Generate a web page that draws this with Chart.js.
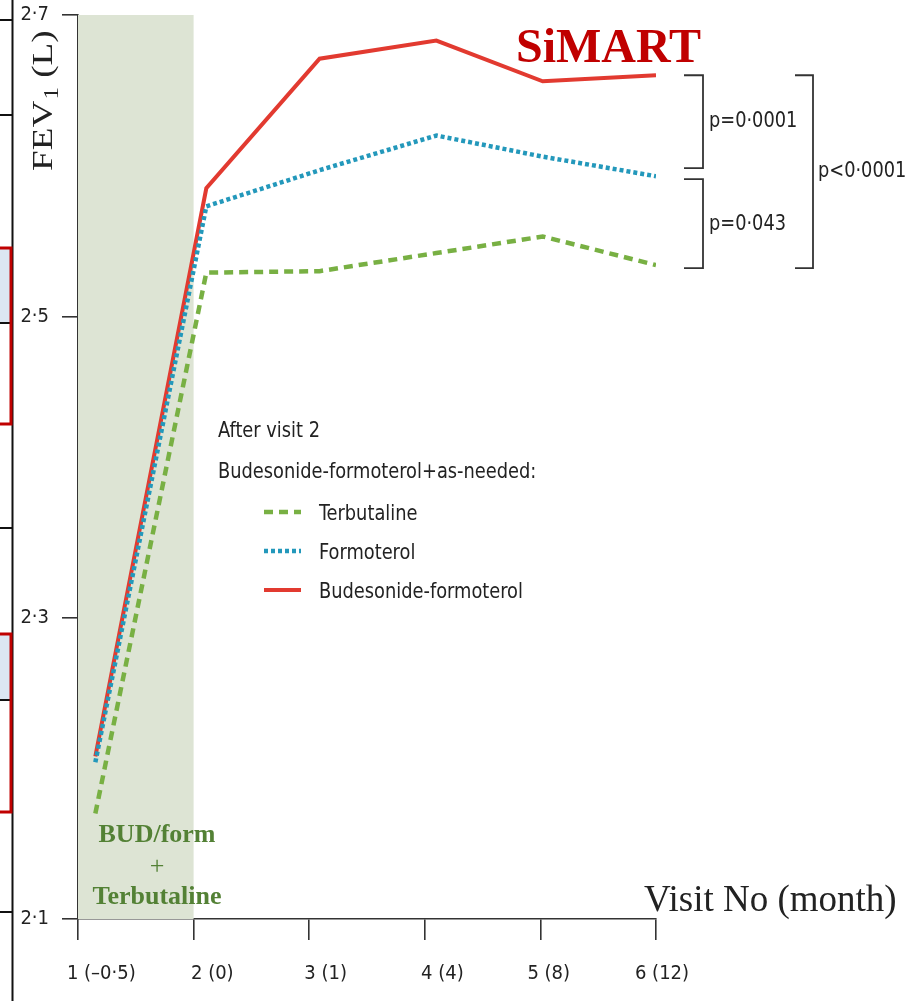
<!DOCTYPE html>
<html lang="en">
  <head>
    <meta charset="utf-8" />
    <title>SiMART FEV1</title>
    <style>
      * {
        margin: 0;
        padding: 0;
      }
      body {
        background: white;
        overflow: hidden;
      }
    </style>
  </head>
  <body>
    <canvas id="myChart" width="915" height="1001"></canvas>

    <script src="https://cdn.jsdelivr.net/npm/chart.js@4.4.1/dist/chart.umd.min.js"></script>

    <script>
      // values
      const visitLabels = ["1 (\u20130\u00b75)", "2 (0)", "3 (1)", "4 (4)", "5 (8)", "6 (12)"];
      const visitPos = [1.15, 2.11, 3.09, 4.1, 5.02, 6];
      const terbutaline = [2.17, 2.529, 2.53, 2.542, 2.553, 2.534];
      const formoterol = [2.204, 2.573, 2.597, 2.62, 2.606, 2.593];
      const budForm = [2.208, 2.585, 2.671, 2.683, 2.656, 2.66];
      const yTicks = [2.1, 2.3, 2.5, 2.7];
      const xTicks = [1, 2, 3, 4, 5, 6];

      const sansNarrow = "'Liberation Sans Narrow', 'DejaVu Sans Condensed', 'Liberation Sans', sans-serif";
      const serif = "'Liberation Serif', 'DejaVu Serif', serif";

      const toPoints = (vals) => vals.map((v, i) => ({ x: visitPos[i], y: v }));

      const data = {
        datasets: [
          {
            label: "Terbutaline",
            data: toPoints(terbutaline),
            borderColor: "#78b043",
            borderWidth: 4.5,
            borderDash: [9, 6],
          },
          {
            label: "Formoterol",
            data: toPoints(formoterol),
            borderColor: "#2398bb",
            borderWidth: 4.5,
            borderDash: [4, 3],
          },
          {
            label: "Budesonide-formoterol",
            data: toPoints(budForm),
            borderColor: "#e23a30",
            borderWidth: 4,
          },
        ],
      };

      // draw text squeezed horizontally (the figure uses a condensed face)
      function squeezeText(ctx, text, x, y, sx) {
        ctx.save();
        ctx.translate(x, y);
        ctx.scale(sx, 1);
        ctx.fillText(text, 0, 0);
        ctx.restore();
      }

      // shaded run-in period (visit 1 to 2)
      const runInBand = {
        id: "runInBand",
        beforeDatasetsDraw(chart) {
          const { ctx, chartArea, scales } = chart;
          const x1 = scales.x.getPixelForValue(1);
          const x2 = scales.x.getPixelForValue(2);
          ctx.save();
          ctx.fillStyle = "#dde4d4";
          ctx.fillRect(x1, chartArea.top, x2 - x1, chartArea.bottom - chartArea.top);
          ctx.restore();
        },
      };

      // leftover slide edge on the far left
      const slideEdge = {
        id: "slideEdge",
        beforeDraw(chart) {
          const { ctx } = chart;
          ctx.save();
          ctx.fillStyle = "#dce6f2";
          ctx.fillRect(0, 248, 12, 75);
          ctx.fillRect(0, 634, 12, 66);
          ctx.strokeStyle = "#111";
          ctx.lineWidth = 2;
          ctx.beginPath();
          ctx.moveTo(12.5, 0);
          ctx.lineTo(12.5, 1001);
          [20, 115, 323, 528, 700, 912].forEach((y) => {
            ctx.moveTo(0, y);
            ctx.lineTo(12, y);
          });
          ctx.stroke();
          ctx.strokeStyle = "#c00000";
          ctx.lineWidth = 3;
          ctx.strokeRect(-3, 248, 14, 176);
          ctx.strokeRect(-3, 634, 14, 178);
          ctx.restore();
        },
      };

      const annotations = {
        id: "annotations",
        afterDraw(chart) {
          const { ctx, scales } = chart;
          const y = scales.y;
          ctx.save();

          // title
          ctx.fillStyle = "#c00000";
          ctx.font = "bold 48px " + serif;
          ctx.textBaseline = "alphabetic";
          ctx.textAlign = "left";
          ctx.fillText("SiMART", 516, 62);

          // y axis title, stretched along its baseline
          ctx.save();
          ctx.translate(52, 171);
          ctx.rotate(-Math.PI / 2);
          ctx.scale(1.24, 1);
          ctx.fillStyle = "#222";
          ctx.font = "30px " + serif;
          ctx.fillText("FEV", 0, 0);
          let w = ctx.measureText("FEV").width;
          ctx.font = "20px " + serif;
          ctx.fillText("1", w + 1, 6);
          w += ctx.measureText("1").width + 1;
          ctx.font = "30px " + serif;
          ctx.fillText(" (L)", w, 0);
          ctx.restore();

          // x axis title
          ctx.fillStyle = "#222";
          ctx.font = "37px " + serif;
          ctx.fillText("Visit No (month)", 644, 911);

          // run-in label
          ctx.fillStyle = "#538135";
          ctx.textAlign = "center";
          ctx.font = "bold 26px " + serif;
          ctx.fillText("BUD/form", 157, 842);
          ctx.font = "26px " + serif;
          ctx.fillText("+", 157, 874);
          ctx.font = "bold 26px " + serif;
          ctx.fillText("Terbutaline", 157, 904);

          // legend
          ctx.textAlign = "left";
          ctx.fillStyle = "#222";
          ctx.font = "22px " + sansNarrow;
          squeezeText(ctx, "After visit 2", 218, 437, 0.9);
          squeezeText(ctx, "Budesonide-formoterol+as-needed:", 218, 478, 0.9);
          const rows = [520, 559, 598];
          chart.data.datasets.forEach((ds, i) => {
            ctx.save();
            ctx.strokeStyle = ds.borderColor;
            ctx.lineWidth = ds.borderWidth;
            ctx.setLineDash(ds.borderDash || []);
            ctx.beginPath();
            ctx.moveTo(264, rows[i] - 8);
            ctx.lineTo(301, rows[i] - 8);
            ctx.stroke();
            ctx.restore();
            squeezeText(ctx, ds.label, 319, rows[i], 0.9);
          });

          // significance brackets
          const last = visitPos.length - 1;
          const yRed = y.getPixelForValue(budForm[last]);
          const yBlue = y.getPixelForValue(formoterol[last]);
          const yGreen = y.getPixelForValue(terbutaline[last]);
          ctx.strokeStyle = "#333";
          ctx.lineWidth = 1.8;
          const bracket = (x, top, bottom, len) => {
            ctx.beginPath();
            ctx.moveTo(x - len, top);
            ctx.lineTo(x, top);
            ctx.lineTo(x, bottom);
            ctx.lineTo(x - len, bottom);
            ctx.stroke();
          };
          bracket(703, yRed, yBlue - 8, 19);
          bracket(703, yBlue + 3, yGreen + 3, 19);
          bracket(813, yRed, yGreen + 3, 18);

          ctx.fillStyle = "#222";
          ctx.font = "21px " + sansNarrow;
          squeezeText(ctx, "p=0\u00b70001", 709, 127, 0.94);
          squeezeText(ctx, "p=0\u00b7043", 709, 230, 0.94);
          squeezeText(ctx, "p<0\u00b70001", 818, 177, 0.94);

          ctx.restore();
        },
      };

      const config = {
        type: "line",
        data: data,
        options: {
          responsive: false,
          animation: false,
          layout: {
            padding: { left: 0, top: 15, right: 259, bottom: 0 },
          },
          elements: {
            point: { radius: 0 },
            line: { tension: 0, borderCapStyle: "butt" },
          },
          scales: {
            // axis line and tick marks at whole visits
            x: {
              type: "linear",
              min: 1,
              max: 6,
              weight: 0,
              afterFit(scale) {
                scale.height = 21;
                scale.paddingLeft = 0;
                scale.paddingRight = 0;
              },
              afterBuildTicks(scale) {
                scale.ticks = xTicks.map((v) => ({ value: v }));
              },
              ticks: { display: false },
              grid: {
                drawOnChartArea: false,
                tickLength: 21,
                color: "#333",
                lineWidth: 1.6,
              },
              border: { color: "#333", width: 1.6 },
            },
            // visit labels sit under the plotted points
            xLabels: {
              type: "linear",
              position: "bottom",
              min: 1,
              max: 6,
              weight: 1,
              afterFit(scale) {
                scale.height = 61;
                scale.paddingLeft = 0;
                scale.paddingRight = 0;
              },
              afterBuildTicks(scale) {
                scale.ticks = visitPos.map((v) => ({ value: v }));
              },
              ticks: {
                padding: 22,
                labelOffset: 6,
                maxRotation: 0,
                autoSkip: false,
                color: "#222",
                font: { size: 20, family: sansNarrow },
                callback: (v, i) => visitLabels[i],
              },
              grid: { display: false, drawTicks: false },
              border: { display: false },
            },
            y: {
              min: 2.1,
              max: 2.7,
              afterFit(scale) {
                scale.width = 78;
                scale.paddingTop = 0;
                scale.paddingBottom = 0;
              },
              afterBuildTicks(scale) {
                scale.ticks = yTicks.map((v) => ({ value: v }));
              },
              ticks: {
                padding: 13,
                color: "#222",
                font: { size: 20, family: sansNarrow },
                callback: (v) => v.toFixed(1).replace(".", "\u00b7"),
              },
              grid: {
                drawOnChartArea: false,
                tickLength: 16,
                color: "#333",
                lineWidth: 1.6,
              },
              border: { color: "#333", width: 1.6 },
            },
          },
          plugins: {
            legend: { display: false },
            tooltip: { enabled: false },
          },
        },
        plugins: [slideEdge, runInBand, annotations],
      };

      const myChart = new Chart(document.getElementById("myChart"), config);
    </script>
  </body>
</html>
